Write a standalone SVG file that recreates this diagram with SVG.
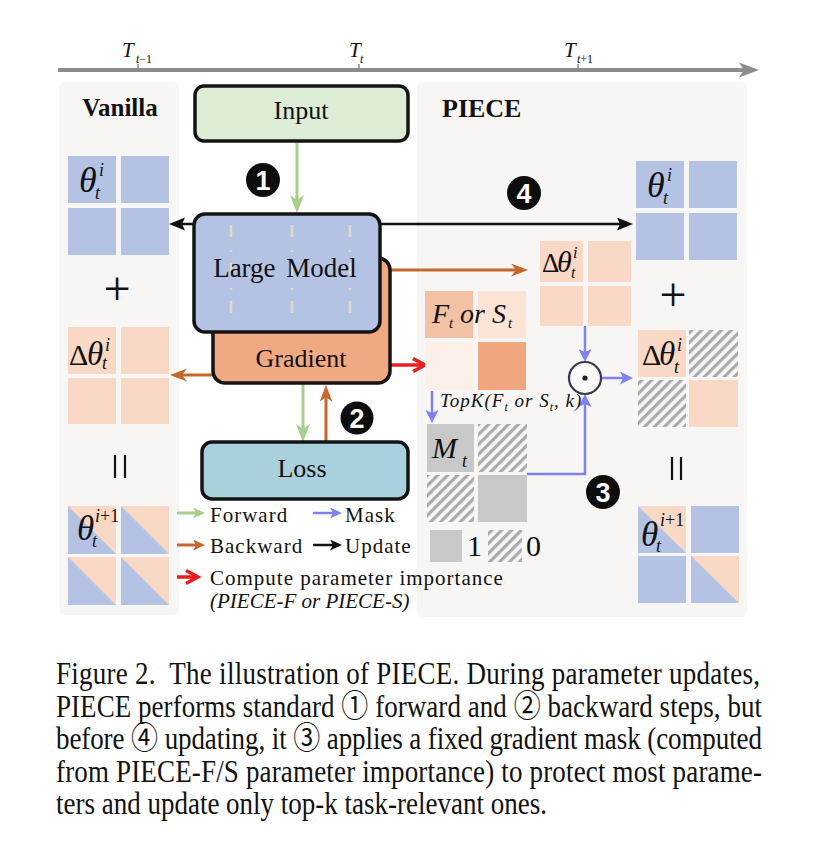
<svg xmlns="http://www.w3.org/2000/svg" width="822" height="852" viewBox="0 0 822 852">
<defs>
<style>
text { font-family: "Liberation Serif", "Times New Roman", "Noto Sans CJK JP", serif; fill: #111; }
.box { stroke: #141414; stroke-width: 3.5; }
.blue { fill: #b4c3e3; }
.peach { fill: #f9d9c5; }
.grayc { fill: #c8c8c8; }
.hatch { fill: url(#hatch); }
.it { font-style: italic; }
.lbl { font-size: 26px; text-anchor: middle; }
.leg { font-size: 21px; letter-spacing: 1px; }
.badge circle { fill: #0d0d0d; }
.badge text { font-family: "Liberation Sans", Arial, sans-serif; font-weight: bold; font-size: 27px; fill: #fff; text-anchor: middle; }
.cap { font-size: 27px; }
.g { stroke: #a6cf8d; stroke-width: 3; fill: none; }
.o { stroke: #c4682d; stroke-width: 3; fill: none; }
.b { stroke: #8080ef; stroke-width: 2.5; fill: none; }
.k { stroke: #111; stroke-width: 2.5; fill: none; }
.r { stroke: #e61e1e; stroke-width: 3.5; fill: none; }
.dash { stroke: #dcdcc6; stroke-width: 2.5; stroke-dasharray: 12 13 2 11; }
.bar { stroke: #111; stroke-width: 2.2; }
</style>
<pattern id="hatch" patternUnits="userSpaceOnUse" width="7" height="7" patternTransform="rotate(45)">
<rect width="7" height="7" fill="#f7f7f7"/>
<rect width="3.2" height="7" fill="#ababab"/>
</pattern>
<marker id="aG" markerUnits="userSpaceOnUse" markerWidth="20" markerHeight="16" refX="6" refY="7" orient="auto"><path d="M0,0 L18,7 L0,14 L5,7 z" fill="#a6cf8d"/></marker>
<marker id="aO" markerUnits="userSpaceOnUse" markerWidth="20" markerHeight="16" refX="6" refY="6.5" orient="auto"><path d="M0,0 L17,6.5 L0,13 L5,6.5 z" fill="#c4682d"/></marker>
<marker id="aB" markerUnits="userSpaceOnUse" markerWidth="16" markerHeight="16" refX="4" refY="6.5" orient="auto"><path d="M0,0 L13,6.5 L0,13 L3,6.5 z" fill="#8080ef"/></marker>
<marker id="aK" markerUnits="userSpaceOnUse" markerWidth="18" markerHeight="16" refX="4" refY="6.5" orient="auto-start-reverse"><path d="M0,0 L16,6.5 L0,13 L3,6.5 z" fill="#111"/></marker>
<marker id="aR" markerUnits="userSpaceOnUse" markerWidth="18" markerHeight="18" refX="11" refY="8" orient="auto"><path d="M1,1.5 L13,8 L1,14.5" fill="none" stroke="#e61e1e" stroke-width="3.5"/></marker>
<marker id="sG" markerUnits="userSpaceOnUse" markerWidth="14" markerHeight="12" refX="4" refY="5.5" orient="auto"><path d="M0,0 L12,5.5 L0,11 L3,5.5 z" fill="#a6cf8d"/></marker>
<marker id="sO" markerUnits="userSpaceOnUse" markerWidth="14" markerHeight="12" refX="4" refY="5.5" orient="auto"><path d="M0,0 L12,5.5 L0,11 L3,5.5 z" fill="#c4682d"/></marker>
<marker id="sB" markerUnits="userSpaceOnUse" markerWidth="14" markerHeight="12" refX="4" refY="5.5" orient="auto"><path d="M0,0 L12,5.5 L0,11 L3,5.5 z" fill="#8080ef"/></marker>
<marker id="sK" markerUnits="userSpaceOnUse" markerWidth="14" markerHeight="12" refX="4" refY="5.5" orient="auto"><path d="M0,0 L12,5.5 L0,11 L3,5.5 z" fill="#111"/></marker>
</defs>

<rect width="822" height="852" fill="#fff"/>

<!-- timeline -->
<g id="timeline">
<line x1="58" y1="70" x2="744" y2="70" stroke="#8c8c8c" stroke-width="4"/>
<path d="M759,70 L739,62.5 L744,70 L739,77.5 z" fill="#8c8c8c"/>
<line x1="138" y1="64" x2="138" y2="70" stroke="#8c8c8c" stroke-width="1.5"/>
<line x1="359" y1="64" x2="359" y2="70" stroke="#8c8c8c" stroke-width="1.5"/>
<line x1="578" y1="64" x2="578" y2="70" stroke="#8c8c8c" stroke-width="1.5"/>
<text class="it" x="122" y="57" font-size="21">T</text>
<text x="136" y="63" font-size="12"><tspan class="it">t</tspan>−1</text>
<text class="it" x="349" y="57" font-size="21">T</text>
<text class="it" x="360" y="63" font-size="12">t</text>
<text class="it" x="564" y="57" font-size="21">T</text>
<text x="577" y="63" font-size="12"><tspan class="it">t</tspan>+1</text>
</g>

<!-- panels -->
<g id="vanilla-panel">
<rect x="59" y="82" width="120" height="533" rx="6" fill="#f7f6f4"/>
<text x="120" y="116" font-size="25" font-weight="bold" text-anchor="middle">Vanilla</text>
</g>
<g id="piece-panel">
<rect x="417" y="82" width="330" height="535" rx="6" fill="#f7f6f4"/>
<text x="442" y="117" font-size="26" font-weight="bold">PIECE</text>
</g>

<!-- connectors -->
<g id="connectors">
<line class="g" x1="297" y1="141" x2="297" y2="201" marker-end="url(#aG)"/>
<line class="k" x1="181" y1="224" x2="621" y2="224" marker-start="url(#aK)" marker-end="url(#aK)"/>
<line class="o" x1="385" y1="270" x2="517" y2="270" marker-end="url(#aO)"/>
<line class="o" x1="215" y1="375" x2="181" y2="375" marker-end="url(#aO)"/>
<line class="r" x1="388" y1="365" x2="423" y2="365" marker-end="url(#aR)"/>
<line class="g" x1="303" y1="383" x2="303" y2="430" marker-end="url(#aG)"/>
<line class="o" x1="326" y1="442" x2="326" y2="396" marker-end="url(#aO)"/>
<line class="b" x1="432" y1="391" x2="432" y2="414" marker-end="url(#aB)"/>
<polyline class="b" points="527,474 585,474 585,403" marker-end="url(#aB)"/>
<line class="b" x1="585" y1="326" x2="585" y2="353" marker-end="url(#aB)"/>
<line class="b" x1="601" y1="378" x2="624" y2="378" marker-end="url(#aB)"/>
</g>

<!-- nodes -->
<g id="input">
<rect class="box" x="195" y="86" width="213" height="55" rx="9" fill="#dcecd5"/>
<text class="lbl" x="301" y="119">Input</text>
</g>
<g id="gradient">
<rect class="box" x="213" y="258" width="177" height="125" rx="12" fill="#f1a984"/>
<text class="lbl" x="301" y="367">Gradient</text>
</g>
<g id="large-model">
<rect class="box" x="194" y="214" width="186" height="118" rx="11" fill="#b4c3e3"/>
<line class="dash" x1="231" y1="225" x2="231" y2="318"/>
<line class="dash" x1="292" y1="225" x2="292" y2="318"/>
<line class="dash" x1="350" y1="225" x2="350" y2="318"/>
<text x="285" y="277" font-size="27" text-anchor="middle" word-spacing="4">Large Model</text>
</g>
<g id="loss">
<rect class="box" x="202" y="442" width="206" height="57" rx="10" fill="#a9d0dc"/>
<text class="lbl" x="302" y="477">Loss</text>
</g>

<!-- badges -->
<g id="badge1" class="badge"><circle cx="263" cy="180" r="17"/><text x="263" y="189.5">1</text></g>
<g id="badge2" class="badge"><circle cx="357" cy="418" r="16.5"/><text x="357" y="427.5">2</text></g>
<g id="badge3" class="badge"><circle cx="603" cy="492" r="17"/><text x="603" y="501.5">3</text></g>
<g id="badge4" class="badge"><circle cx="524" cy="193" r="17"/><text x="524" y="202.5">4</text></g>

<!-- Vanilla matrices -->
<g id="v-theta">
<rect class="blue" x="68" y="156" width="48" height="47"/>
<rect class="blue" x="121" y="156" width="48" height="47"/>
<rect class="blue" x="68" y="208" width="48" height="47"/>
<rect class="blue" x="121" y="208" width="48" height="47"/>
<text class="it" x="79" y="192" font-size="36">θ</text>
<text class="it" x="99" y="176" font-size="18">i</text>
<text class="it" x="95" y="199" font-size="18">t</text>
</g>
<text x="117" y="305" font-size="48" text-anchor="middle">+</text>
<g id="v-delta">
<rect class="peach" x="68" y="327" width="48" height="47"/>
<rect class="peach" x="121" y="327" width="48" height="47"/>
<rect class="peach" x="68" y="378" width="48" height="46"/>
<rect class="peach" x="121" y="378" width="48" height="46"/>
<text x="69" y="365" font-size="30">Δ</text>
<text class="it" x="87" y="365" font-size="33">θ</text>
<text class="it" x="105" y="351" font-size="18">i</text>
<text class="it" x="102" y="369" font-size="18">t</text>
</g>
<line class="bar" x1="115" y1="455" x2="115" y2="478"/>
<line class="bar" x1="125" y1="455" x2="125" y2="478"/>
<g id="v-theta-next">
<rect class="peach" x="68" y="506" width="48" height="48"/>
<polygon class="blue" points="68,506 68,554 116,554"/>
<rect class="peach" x="121" y="506" width="48" height="48"/>
<polygon class="blue" points="121,506 121,554 169,554"/>
<rect class="peach" x="68" y="557" width="48" height="48"/>
<polygon class="blue" points="68,557 68,605 116,605"/>
<rect class="peach" x="121" y="557" width="48" height="48"/>
<polygon class="blue" points="121,557 121,605 169,605"/>
<text class="it" x="77" y="540" font-size="35">θ</text>
<text x="95" y="522" font-size="18"><tspan class="it">i</tspan>+1</text>
<text class="it" x="92" y="547" font-size="18">t</text>
</g>

<!-- PIECE matrices -->
<g id="f-or-s">
<rect x="425" y="291" width="48" height="47" fill="#f3c2a5"/>
<rect x="478" y="291" width="48" height="47" fill="#fbe4d6"/>
<rect x="425" y="342" width="48" height="48" fill="#fdf0e9"/>
<rect x="478" y="342" width="48" height="48" fill="#f0a77f"/>
<text class="it" x="432" y="323" font-size="28">F</text>
<text class="it" x="449" y="328" font-size="15">t</text>
<text class="it" x="460" y="323" font-size="28">or</text>
<text class="it" x="492" y="323" font-size="28">S</text>
<text class="it" x="508" y="328" font-size="15">t</text>
</g>
<text class="it" x="440" y="407" font-size="19" letter-spacing="1">TopK(F<tspan dy="4" font-size="12">t</tspan><tspan dy="-4"> or S</tspan><tspan dy="4" font-size="12">t</tspan><tspan dy="-4">, k)</tspan></text>
<g id="mask">
<rect class="grayc" x="427" y="424" width="47" height="48"/>
<rect class="hatch" x="478" y="424" width="49" height="48"/>
<rect class="hatch" x="427" y="475" width="47" height="47"/>
<rect class="grayc" x="478" y="475" width="49" height="47"/>
<text class="it" x="432" y="458" font-size="30">M</text>
<text class="it" x="462" y="467" font-size="18">t</text>
</g>
<g id="p-delta">
<rect class="peach" x="540" y="241" width="43" height="41"/>
<rect class="peach" x="588" y="241" width="43" height="41"/>
<rect class="peach" x="540" y="286" width="43" height="40"/>
<rect class="peach" x="588" y="286" width="43" height="40"/>
<text x="542" y="272" font-size="27">Δ</text>
<text class="it" x="557" y="272" font-size="30">θ</text>
<text class="it" x="573" y="258" font-size="16">i</text>
<text class="it" x="571" y="278" font-size="16">t</text>
</g>
<g id="hadamard">
<circle cx="585" cy="378" r="16" fill="#fbfaf9" stroke="#333a4a" stroke-width="2.2"/>
<circle cx="585" cy="378" r="2.6" fill="#222"/>
</g>
<g id="p-theta">
<rect class="blue" x="636" y="161" width="48" height="47"/>
<rect class="blue" x="689" y="161" width="48" height="47"/>
<rect class="blue" x="636" y="213" width="48" height="47"/>
<rect class="blue" x="689" y="213" width="48" height="47"/>
<text class="it" x="647" y="197" font-size="36">θ</text>
<text class="it" x="667" y="181" font-size="18">i</text>
<text class="it" x="663" y="204" font-size="18">t</text>
</g>
<text x="673" y="311" font-size="48" text-anchor="middle">+</text>
<g id="p-delta-masked">
<rect class="peach" x="638" y="330" width="48" height="47"/>
<rect class="hatch" x="689" y="330" width="49" height="47"/>
<rect class="hatch" x="638" y="380" width="48" height="47"/>
<rect class="peach" x="689" y="380" width="49" height="47"/>
<text x="642" y="365" font-size="30">Δ</text>
<text class="it" x="659" y="365" font-size="33">θ</text>
<text class="it" x="677" y="351" font-size="18">i</text>
<text class="it" x="674" y="373" font-size="18">t</text>
</g>
<line class="bar" x1="672" y1="457" x2="672" y2="480"/>
<line class="bar" x1="681" y1="457" x2="681" y2="480"/>
<g id="p-theta-next">
<rect class="peach" x="638" y="506" width="48" height="47"/>
<polygon class="blue" points="638,506 638,553 686,553"/>
<rect class="blue" x="691" y="506" width="48" height="47"/>
<rect class="blue" x="638" y="556" width="48" height="47"/>
<rect class="peach" x="691" y="556" width="48" height="47"/>
<polygon class="blue" points="691,556 691,603 739,603"/>
<text class="it" x="641" y="546" font-size="35">θ</text>
<text x="660" y="526" font-size="18"><tspan class="it">i</tspan>+1</text>
<text class="it" x="656" y="552" font-size="18">t</text>
</g>

<!-- legend -->
<g id="legend">
<line class="g" x1="177" y1="513" x2="197" y2="513" marker-end="url(#sG)"/>
<text class="leg" x="210" y="522">Forward</text>
<line class="b" x1="313" y1="513" x2="334" y2="513" marker-end="url(#sB)"/>
<text class="leg" x="345" y="522">Mask</text>
<line class="o" x1="177" y1="545" x2="197" y2="545" marker-end="url(#sO)"/>
<text class="leg" x="210" y="553">Backward</text>
<line class="k" x1="313" y1="545" x2="334" y2="545" marker-end="url(#sK)"/>
<text class="leg" x="345" y="553">Update</text>
<line class="r" x1="177" y1="577" x2="196" y2="577" marker-end="url(#aR)"/>
<text class="leg" x="210" y="585">Compute parameter importance</text>
<text class="it" x="210" y="608" font-size="21">(PIECE-F or PIECE-S)</text>
<rect class="grayc" x="430" y="530" width="32" height="32"/>
<text x="467" y="556" font-size="30">1</text>
<rect class="hatch" x="488" y="530" width="34" height="32"/>
<text x="526" y="556" font-size="30">0</text>
</g>

<!-- caption -->
<g id="caption" transform="scale(1,1.17)">
<text class="cap" x="56" y="584.6" xml:space="preserve" textLength="704" lengthAdjust="spacing">Figure 2.  The illustration of PIECE. During parameter updates,</text>
<text class="cap" x="56" y="612.8" textLength="706" lengthAdjust="spacing">PIECE performs standard ① forward and ② backward steps, but</text>
<text class="cap" x="56" y="640.2" textLength="706" lengthAdjust="spacing">before ④ updating, it ③ applies a fixed gradient mask (computed</text>
<text class="cap" x="56" y="668.4" textLength="706" lengthAdjust="spacing">from PIECE-F/S parameter importance) to protect most parame-</text>
<text class="cap" x="56" y="695.7">ters and update only top-k task-relevant ones.</text>
</g>
</svg>
